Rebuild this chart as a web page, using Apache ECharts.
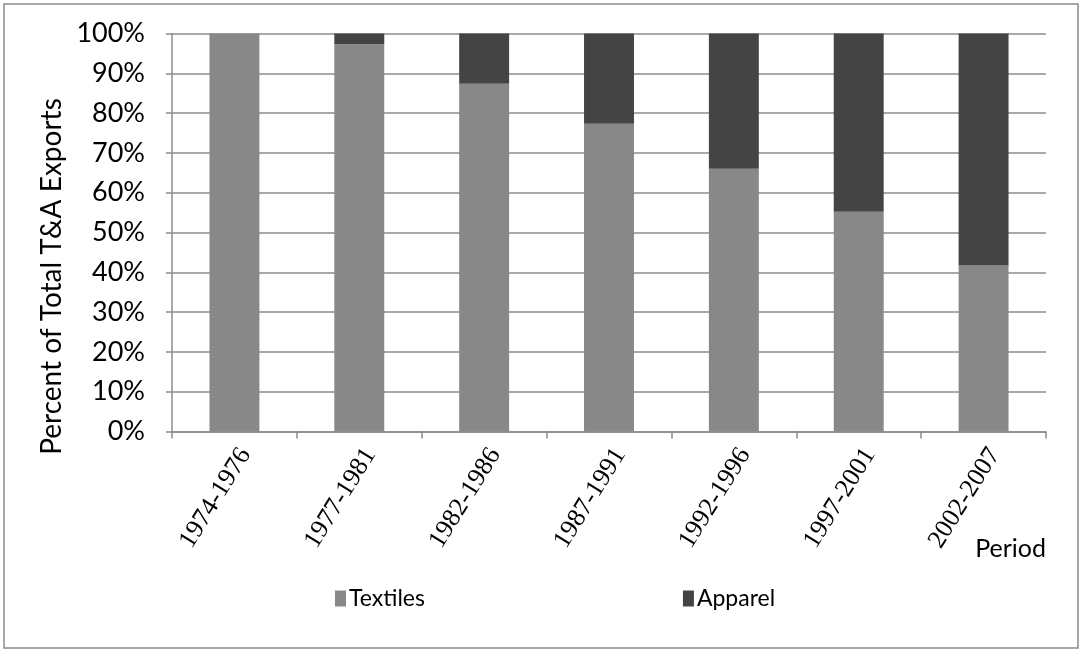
<!DOCTYPE html>
<html>
<head>
<meta charset="utf-8">
<script src="https://cdn.jsdelivr.net/npm/echarts@6/dist/echarts.min.js"></script>
<style>
  html, body { margin: 0; padding: 0; background: #fff; }
  #chart { width: 1083px; height: 653px; }
</style>
</head>
<body>
<div id="chart"></div>
<script>
// Share of textile vs apparel exports by period (percent of total T&A exports)
const periods = ['1974-1976', '1977-1981', '1982-1986', '1987-1991', '1992-1996', '1997-2001', '2002-2007'];
const textiles = [100, 97.3, 87.4, 77.3, 66.0, 55.2, 41.7];
const apparel = [0, 2.7, 12.6, 22.7, 34.0, 44.8, 58.3];
const yTicks = [0, 10, 20, 30, 40, 50, 60, 70, 80, 90, 100];

const sansFont = 'Lato, "Open Sans", sans-serif';
const chart = echarts.init(document.getElementById('chart'), null, { renderer: 'canvas' });

chart.setOption({
  animation: false,
  backgroundColor: '#ffffff',
  graphic: [{
    type: 'rect',
    shape: { x: 4, y: 4, width: 1074, height: 644 },
    style: { fill: 'none', stroke: '#8c8c8c', lineWidth: 1.5 },
    silent: true
  }],
  grid: { left: 172, right: 37, top: 33.5, bottom: 221.5, containLabel: false },
  legend: {
    data: ['Textiles', 'Apparel'],
    left: 330,
    top: 582,
    itemGap: 258,
    itemWidth: 11,
    itemHeight: 16,
    icon: 'rect',
    textStyle: { fontFamily: sansFont, fontSize: 23, color: '#000', padding: [0, 0, 0, -2] }
  },
  xAxis: {
    type: 'category',
    data: periods,
    name: 'Period',
    nameLocation: 'end',
    nameGap: 0,
    nameTextStyle: {
      fontFamily: sansFont, fontSize: 25, color: '#000',
      align: 'right', verticalAlign: 'top', padding: [105, 0, 0, 0]
    },
    axisLine: { show: true, lineStyle: { color: '#8c8c8c', width: 1.5 } },
    axisTick: { show: true, alignWithLabel: false, length: 7, lineStyle: { color: '#8c8c8c', width: 1.5 } },
    axisLabel: {
      interval: 0,
      rotate: 58,
      margin: 12,
      verticalAlign: 'top',
      fontFamily: '"Liberation Serif", "DejaVu Serif", serif',
      fontSize: 26,
      color: '#000'
    }
  },
  yAxis: {
    type: 'value',
    min: yTicks[0],
    max: yTicks[yTicks.length - 1],
    interval: 10,
    name: 'Percent of Total T&A Exports',
    nameLocation: 'middle',
    nameRotate: 90,
    nameGap: 105,
    nameTextStyle: { fontFamily: sansFont, fontSize: 28, color: '#000', padding: [0, 88, 0, 0] },
    axisLine: { show: true, lineStyle: { color: '#8c8c8c', width: 1.5 } },
    axisTick: { show: true, inside: false, length: 6, lineStyle: { color: '#8c8c8c', width: 1.5 } },
    axisLabel: {
      margin: 27,
      fontFamily: sansFont,
      fontSize: 27,
      color: '#000',
      formatter: v => v + '%'
    },
    splitLine: { show: true, lineStyle: { color: '#8c8c8c', width: 1.5 } }
  },
  series: [
    {
      name: 'Textiles',
      type: 'bar',
      stack: 'total',
      data: textiles,
      barWidth: '40%',
      itemStyle: { color: '#888888' }
    },
    {
      name: 'Apparel',
      type: 'bar',
      stack: 'total',
      data: apparel,
      barWidth: '40%',
      itemStyle: { color: '#444444' }
    }
  ]
});
</script>
</body>
</html>
